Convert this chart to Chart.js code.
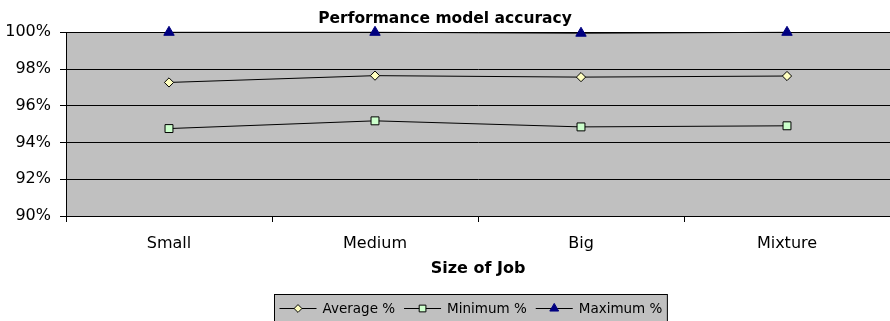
<!DOCTYPE html>
<html>
<head>
<meta charset="utf-8">
<script src="https://cdn.jsdelivr.net/npm/chart.js@4"></script>
<style>
  html, body { margin: 0; padding: 0; background: #fff; overflow: hidden; }
  #chart { display: block; }
</style>
</head>
<body>
<canvas id="chart" width="890" height="321"></canvas>
<script>
// ---- data ----
const jobSizes = ['Small', 'Medium', 'Big', 'Mixture'];
const averagePct = [97.27, 97.64, 97.56, 97.62];
const minimumPct = [94.76, 95.18, 94.85, 94.91];
const maximumPct = [100, 100, 99.95, 100];
const yTicks = [90, 92, 94, 96, 98, 100];

const FONT = "'DejaVu Sans', sans-serif";

// grey plot background
const plotBackground = {
    id: 'plotBackground',
    beforeDraw(chart) {
        const { ctx, chartArea: a } = chart;
        ctx.save();
        ctx.fillStyle = '#c0c0c0';
        ctx.fillRect(a.left, a.top, a.right - a.left, a.bottom - a.top);
        ctx.restore();
    }
};

// legend box under the axis title (line + marker + label, like the original)
const boxLegend = {
    id: 'boxLegend',
    afterDraw(chart) {
        const ctx = chart.ctx;
        const sets = chart.data.datasets;
        ctx.save();
        ctx.font = '13.5px ' + FONT;
        const lineLen = 37, gap = 6, itemGap = 9, padX = 5;
        let total = padX * 2;
        sets.forEach((ds, i) => {
            total += lineLen + gap + ctx.measureText(ds.label).width;
            if (i < sets.length - 1) total += itemGap;
        });
        const cx = 470.5;
        const left = Math.round(cx - total / 2) + 0.5;
        const top = 294.5, h = 30, mid = 308.5;
        ctx.fillStyle = '#c0c0c0';
        ctx.fillRect(left, top, total, h);
        ctx.strokeStyle = '#000';
        ctx.lineWidth = 1;
        ctx.strokeRect(left, top, total, h);

        let x = left + padX;
        sets.forEach((ds) => {
            ctx.beginPath();
            ctx.moveTo(x, mid);
            ctx.lineTo(x + lineLen, mid);
            ctx.strokeStyle = '#000';
            ctx.lineWidth = 1;
            ctx.stroke();
            ctx.fillStyle = ds.pointBackgroundColor;
            ctx.strokeStyle = ds.pointBorderColor;
            Chart.helpers.drawPoint(ctx, {
                pointStyle: ds.pointStyle,
                radius: ds.pointRadius * 0.85,
                borderWidth: 1,
                rotation: 0
            }, x + lineLen / 2, mid);
            x += lineLen + gap;
            ctx.fillStyle = '#000';
            ctx.textBaseline = 'middle';
            ctx.textAlign = 'left';
            ctx.fillText(ds.label, x, mid + 0.5);
            x += ctx.measureText(ds.label).width + itemGap;
        });
        ctx.restore();
    }
};

new Chart(document.getElementById('chart'), {
    type: 'line',
    data: {
        labels: jobSizes,
        datasets: [
            {
                label: 'Average %',
                data: averagePct,
                borderColor: '#000',
                borderWidth: 1,
                pointStyle: 'rectRot',
                pointRadius: 4.6,
                pointBackgroundColor: '#ffffc0',
                pointBorderColor: '#000',
                pointBorderWidth: 1
            },
            {
                label: 'Minimum %',
                data: minimumPct,
                borderColor: '#000',
                borderWidth: 1,
                pointStyle: 'rect',
                pointRadius: 5.6,
                pointBackgroundColor: '#ccffcc',
                pointBorderColor: '#000',
                pointBorderWidth: 1
            },
            {
                label: 'Maximum %',
                data: maximumPct,
                borderColor: '#000',
                borderWidth: 1,
                pointStyle: 'triangle',
                pointRadius: 6,
                pointBackgroundColor: '#000080',
                pointBorderColor: '#000080',
                pointBorderWidth: 1
            }
        ]
    },
    options: {
        responsive: false,
        animation: false,
        events: [],
        clip: false,
        layout: {
            autoPadding: false,
            padding: { left: 0, right: 0, top: 0, bottom: 40 }
        },
        plugins: {
            legend: { display: false },
            tooltip: { enabled: false },
            title: {
                display: true,
                text: 'Performance model accuracy',
                color: '#000',
                font: { family: FONT, size: 15.5, weight: 'bold' },
                padding: { top: 9.5, bottom: 4.2 }
            }
        },
        scales: {
            x: {
                type: 'category',
                offset: true,
                afterFit(scale) {
                    scale.height = 65;
                    scale.paddingLeft = 0;
                    scale.paddingRight = 0;
                },
                grid: {
                    offset: true,
                    drawOnChartArea: false,
                    drawTicks: true,
                    tickLength: 6,
                    color: '#000'
                },
                border: { color: '#000', width: 1 },
                ticks: {
                    color: '#000',
                    padding: 12,
                    maxRotation: 0,
                    font: { family: FONT, size: 16 }
                },
                title: {
                    display: true,
                    text: 'Size of Job',
                    color: '#000',
                    font: { family: FONT, size: 16, weight: 'bold' },
                    padding: { top: 0, bottom: 3 }
                }
            },
            y: {
                min: yTicks[0],
                max: yTicks[yTicks.length - 1],
                afterFit(scale) {
                    scale.width = 66;
                    scale.paddingTop = 0;
                    scale.paddingBottom = 0;
                },
                afterBuildTicks(scale) { scale.ticks = yTicks.map(v => ({ value: v })); },
                grid: {
                    color: '#000',
                    lineWidth: 1,
                    drawTicks: true,
                    tickLength: 6
                },
                border: { color: '#000', width: 1 },
                ticks: {
                    color: '#000',
                    padding: 9,
                    font: { family: FONT, size: 16 },
                    callback: v => v + '%'
                }
            }
        }
    },
    plugins: [plotBackground, boxLegend]
});
</script>
</body>
</html>
